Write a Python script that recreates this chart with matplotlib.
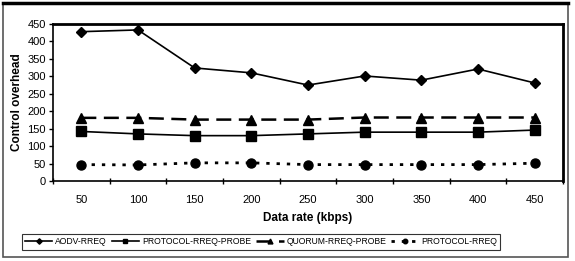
import matplotlib
matplotlib.use("Agg")
import matplotlib.pyplot as plt
from matplotlib.patches import Rectangle

plt.rcParams["font.family"] = ["Liberation Sans", "DejaVu Sans"]

# data
rates = ["50", "100", "150", "200", "250", "300", "350", "400", "450"]
aodv_rreq = [428, 433, 324, 310, 275, 301, 289, 321, 281]
protocol_rreq_probe = [142, 135, 130, 130, 135, 140, 140, 140, 146]
quorum_rreq_probe = [181, 181, 176, 176, 176, 182, 182, 182, 182]
protocol_rreq = [47, 46, 52, 52, 47, 47, 47, 47, 51]
yticks = [0, 50, 100, 150, 200, 250, 300, 350, 400, 450]

W, H, dpi = 575, 261, 100
fig = plt.figure(figsize=(W / dpi, H / dpi), dpi=dpi)
ax = fig.add_axes([53 / W, 1 - 181 / H, (563 - 53) / W, (181 - 24) / H])

x = list(range(len(rates)))
ax.plot(x, aodv_rreq, color="black", lw=1.2, marker="D", ms=5.5,
        label="AODV-RREQ")
ax.plot(x, protocol_rreq_probe, color="black", lw=1.2, marker="s", ms=7,
        label="PROTOCOL-RREQ-PROBE")
ax.plot(x, quorum_rreq_probe, color="black", lw=1.8, ls=(0, (6, 3)),
        marker="^", ms=7, label="QUORUM-RREQ-PROBE")
ax.plot(x, protocol_rreq, color="black", lw=2, ls=(0, (1.2, 2.5)),
        marker="o", ms=6.5, label="PROTOCOL-RREQ")

# category axis: ticks sit between the categories
ax.set_xlim(-0.5, len(rates) - 0.5)
ax.set_xticks([i - 0.5 for i in range(len(rates) + 1)])
ax.set_xticklabels([])
ax.set_xticks(x, minor=True)
ax.set_xticklabels(rates, minor=True)
ax.tick_params(axis="x", which="minor", length=0, pad=10, labelsize=8)
ax.tick_params(axis="x", which="major", length=4, width=1, direction="inout")
ax.set_ylim(0, 450)
ax.set_yticks(yticks)
ax.tick_params(axis="y", length=3, width=1, labelsize=8, pad=2)

for side in ("top", "right"):
    ax.spines[side].set_linewidth(2)
for side in ("left", "bottom"):
    ax.spines[side].set_linewidth(1.2)

ax.set_ylabel("Control overhead", fontsize=8.5, fontweight="bold", labelpad=3)
ax.set_xlabel("Data rate (kbps)", fontsize=8.5, fontweight="bold", labelpad=5)

leg = fig.legend(loc="center", bbox_to_anchor=(261 / W, 1 - 242 / H), ncol=4,
                 fontsize=6.2, frameon=True, fancybox=False, edgecolor="black",
                 markerscale=0.5, handlelength=3.2, handletextpad=0.3,
                 columnspacing=0.6, borderpad=0.35)
leg.get_frame().set_linewidth(0.8)

# outer frame round the whole chart
fig.add_artist(Rectangle((3 / W, 4 / H), 565 / W, (H - 7) / H,
                         transform=fig.transFigure, fill=False,
                         edgecolor="#555555", lw=1.2))
fig.add_artist(plt.Line2D([3 / W, 568 / W], [1 - 3 / H, 1 - 3 / H],
                          transform=fig.transFigure, color="black", lw=2.5))

fig.savefig("out.png", dpi=dpi)
